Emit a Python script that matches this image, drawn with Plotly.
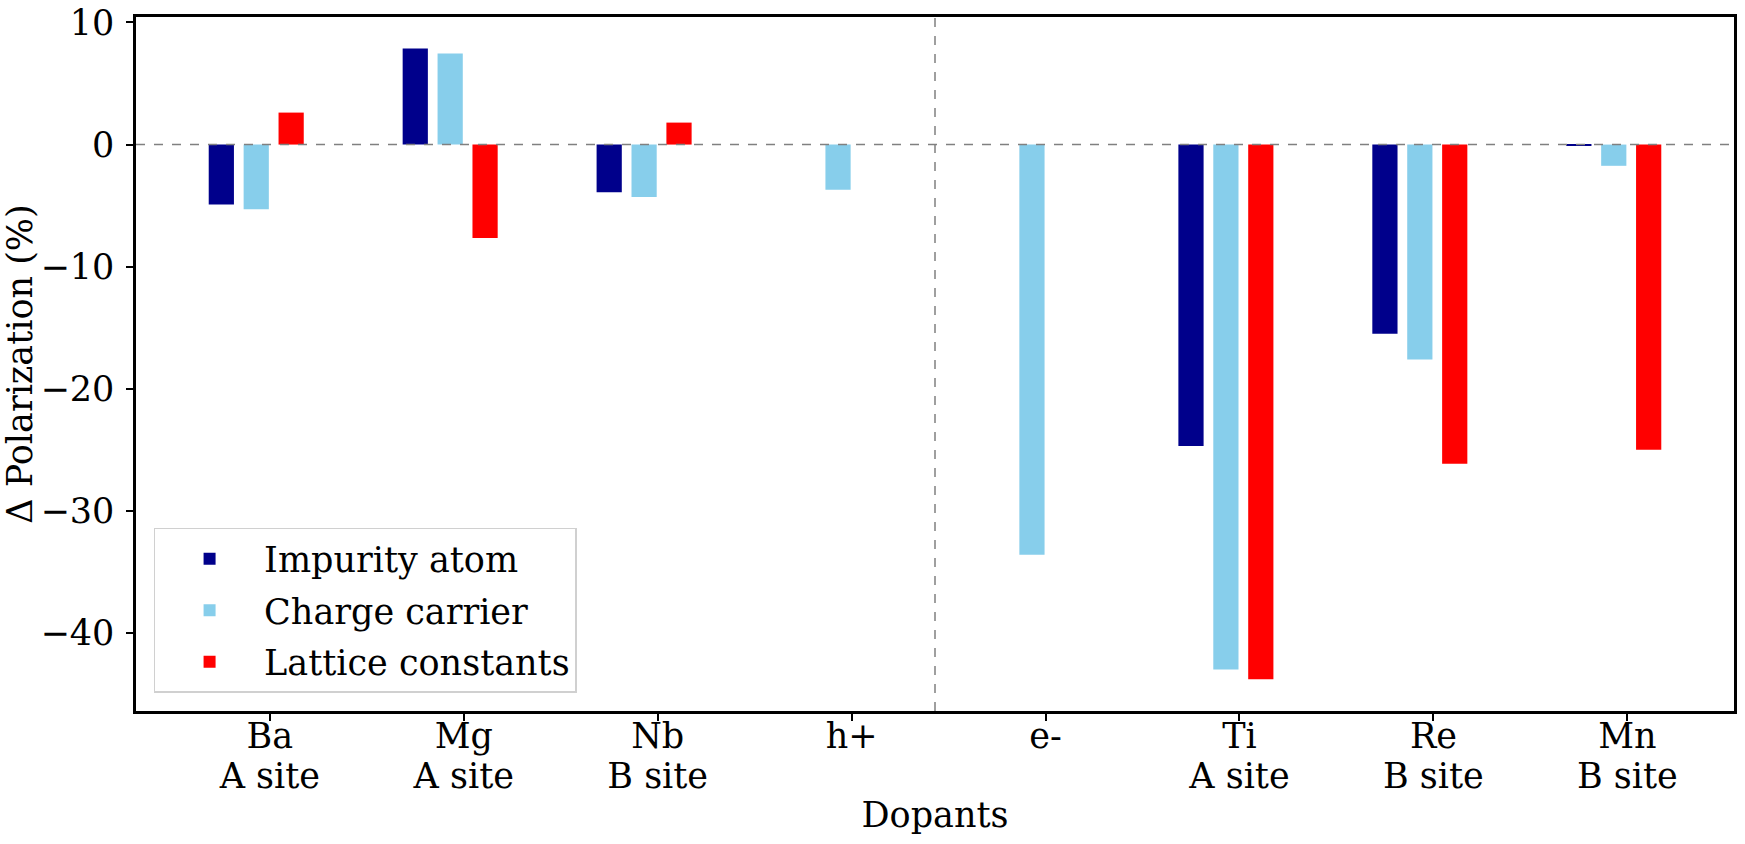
import plotly.graph_objects as go

dopants = ["Ba", "Mg", "Nb", "h+", "e-", "Ti", "Re", "Mn"]
sites = ["A site", "A site", "B site", "", "", "A site", "B site", "B site"]
impurity_atom = [-4.9, 7.86, -3.9, 0.0, 0.0, -24.7, -15.5, -0.05]
charge_carrier = [-5.3, 7.45, -4.3, -3.7, -33.6, -43.0, -17.6, -1.74]
lattice_constants = [2.62, -7.66, 1.8, 0.0, 0.0, -43.8, -26.15, -25.0]
series_names = ["Impurity atom", "Charge carrier", "Lattice constants"]
series_colors = ["#00008B", "#87CEEB", "#FF0000"]
series_axes = ["x", "x", "x2"]
y_ticks = [10, 0, -10, -20, -30, -40]

bar_width = 0.13
offsets = [-0.18, 0.0, 0.18]
tick_shift = 0.07
split_pos = 3.5
x_range = [-0.62, 7.62]
y_range = [-46.4, 10.45]

idx = list(range(len(dopants)))
FONT = "DejaVu Serif"
FS = 35

fig = go.Figure()
for name, vals, col, off, ax in zip(series_names,
                                    [impurity_atom, charge_carrier, lattice_constants],
                                    series_colors, offsets, series_axes):
    fig.add_trace(go.Bar(
        x=[i + off for i in idx], y=vals, width=bar_width, name=name,
        legendgroup=name, xaxis=ax, yaxis="y",
        marker=dict(color=col, line=dict(width=0)),
    ))

fig.add_hline(y=0, line=dict(color="gray", dash="dash", width=1.5))
fig.add_vline(x=split_pos, line=dict(color="gray", dash="dash", width=1.5))

tickvals = [i + tick_shift for i in idx]
fig.update_layout(
    width=1745, height=844,
    margin=dict(l=136, r=11, t=17, b=133),
    paper_bgcolor="white", plot_bgcolor="white",
    barmode="overlay",
    font=dict(family=FONT, size=FS, color="black"),
    showlegend=True,
    legend=dict(x=0.011, y=0.026, xanchor="left", yanchor="bottom",
                bgcolor="white", bordercolor="#d0d0d0", borderwidth=1.5,
                font=dict(family=FONT, size=FS, color="black"),
                tracegroupgap=3, itemwidth=99, traceorder="grouped"),
    xaxis=dict(
        range=x_range, automargin=False,
        tickmode="array", tickvals=tickvals, ticktext=dopants,
        ticks="outside", ticklen=7, tickwidth=1.5, tickcolor="black",
        ticklabelstandoff=-15,
        showline=True, linecolor="black", linewidth=2.5, mirror=True,
        showgrid=False, zeroline=False,
        tickfont=dict(family=FONT, size=FS),
    ),
    xaxis2=dict(
        range=x_range, overlaying="x", side="bottom", anchor="y",
        automargin=False,
        tickmode="array", tickvals=tickvals, ticktext=sites,
        ticks="", ticklabelstandoff=41,
        showline=False, showgrid=False, zeroline=False,
        tickfont=dict(family=FONT, size=FS),
        title=dict(text="Dopants", font=dict(family=FONT, size=FS), standoff=7),
    ),
    yaxis=dict(
        range=y_range, automargin=False,
        tickmode="array",
        tickvals=y_ticks,
        ticktext=[str(v).replace("-", "\u2212") for v in y_ticks],
        ticks="outside", ticklen=7, tickwidth=1.5, tickcolor="black",
        ticklabelstandoff=5,
        showline=True, linecolor="black", linewidth=2.5, mirror=True,
        showgrid=False, zeroline=False,
        title=dict(text="\u0394 Polarization (%)", font=dict(family=FONT, size=FS), standoff=12),
        tickfont=dict(family=FONT, size=FS),
    ),
)

fig.write_html("out.html", config={"displayModeBar": False},
               post_script="document.body.style.margin='0px';")
